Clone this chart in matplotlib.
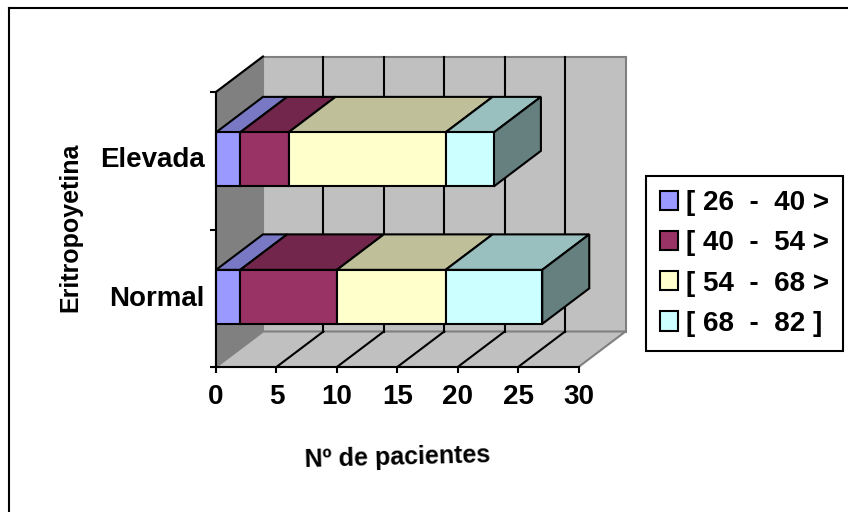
import matplotlib
matplotlib.use("Agg")
import matplotlib.pyplot as plt
from matplotlib.lines import Line2D
from matplotlib.patches import Patch, Polygon

plt.rcParams["font.family"] = ["Liberation Sans", "DejaVu Sans"]
plt.rcParams["font.weight"] = "bold"

# ── Data ─────────────────────────────────────────
categories = ["Normal", "Elevada"]
series_labels = ["[ 26  -  40 >", "[ 40  -  54 >", "[ 54  -  68 >", "[ 68  -  82 ]"]
normal = [2, 8, 9, 8]
elevada = [2, 4, 13, 4]
x_ticks = [0, 5, 10, 15, 20, 25, 30]

# ── Style ────────────────────────────────────────
W, H = 848, 512
front_colors = ["#9999FF", "#993366", "#FFFFCC", "#CCFFFF"]
top_colors = ["#7878C4", "#72264C", "#BFBF99", "#99BFBF"]
side_color = "#668080"
LW = 1.5

# front plane of the 3D box, in pixels
left, right, top, bottom = 216, 578.5, 92, 367
DX = 47 / (right - left) * 30    # depth in x units
DY = 35.5 / (bottom - top) * 2   # depth in category units
BAR_H = 54 / (bottom - top) * 2

fig = plt.figure(figsize=(W / 100, H / 100), dpi=100, facecolor="white")
ax = fig.add_axes([left / W, 1 - bottom / H, (right - left) / W, (bottom - top) / H])
ax.set_xlim(0, 30)
ax.set_ylim(0, 2)
ax.patch.set_visible(False)


def poly(pts, fc, ec="black", z=2, lw=LW):
    ax.add_patch(Polygon(pts, closed=True, facecolor=fc, edgecolor=ec, linewidth=lw,
                         joinstyle="miter", zorder=z, clip_on=False))


# ── Walls ────────────────────────────────────────
poly([(0, 0), (DX, DY), (DX, 2 + DY), (0, 2)], "#808080", ec="#808080", z=1)
poly([(DX, DY), (30 + DX, DY), (30 + DX, 2 + DY), (DX, 2 + DY)], "#C0C0C0", ec="#808080", z=1)
poly([(0, 0), (30, 0), (30 + DX, DY), (DX, DY)], "#C0C0C0", ec="#808080", z=1)

for v in x_ticks[1:-1]:
    ax.plot([v + DX, v + DX], [DY, 2 + DY], color="black", lw=LW, zorder=1.5, clip_on=False)
    ax.plot([v, v + DX], [0, DY], color="black", lw=LW, zorder=1.5, clip_on=False)
ax.plot([0, DX], [2, 2 + DY], color="black", lw=LW, zorder=1.5, clip_on=False)

# ── Bars ─────────────────────────────────────────
for row in [1, 0]:
    values = [normal, elevada][row]
    y0 = row + 0.5 - BAR_H / 2 + 0.01
    y1 = y0 + BAR_H
    z = 3 + (1 - row)
    start = 0
    for val, fc, tc in zip(values, front_colors, top_colors):
        poly([(start, y1), (start + val, y1), (start + val + DX, y1 + DY), (start + DX, y1 + DY)],
             tc, z=z)
        ax.barh(row + 0.51, val, left=start, height=BAR_H, color=fc, edgecolor="black",
                linewidth=LW, zorder=z + 0.5, clip_on=False)
        start += val
    poly([(start, y0), (start + DX, y0 + DY), (start + DX, y1 + DY), (start, y1)],
         side_color, z=z + 0.2)

# ── Axes ─────────────────────────────────────────
for name in ["top", "right"]:
    ax.spines[name].set_visible(False)
for name in ["left", "bottom"]:
    ax.spines[name].set_linewidth(LW)
    ax.spines[name].set_zorder(6)

ax.set_xticks(x_ticks)
ax.set_yticks([0, 1, 2])
ax.set_yticklabels([])
ax.set_yticks([0.52, 1.53], minor=True)
ax.set_yticklabels(categories, minor=True, fontsize=20, fontweight="bold")
ax.tick_params(axis="x", length=4, width=LW, labelsize=20, pad=8)
ax.tick_params(axis="y", which="major", length=4, width=LW)
ax.tick_params(axis="y", which="minor", length=0, pad=8)

fig.text(397 / W, 1 - 458 / H, "Nº de pacientes", fontsize=18, fontweight="bold",
         ha="center", va="center", rotation=1.5)
fig.text(70 / W, 1 - 227 / H, "Eritropoyetina", fontsize=18, fontweight="bold",
         ha="center", va="center", rotation=90)

# ── Legend ───────────────────────────────────────
handles = [Patch(facecolor=c, edgecolor="black", linewidth=LW) for c in front_colors]
fig.legend(handles, series_labels, loc="center", bbox_to_anchor=(744.5 / W, 1 - 263.5 / H),
           fontsize=20, frameon=True, fancybox=False, framealpha=1, edgecolor="black",
           handlelength=0.68, handleheight=0.68, handletextpad=0.28, labelspacing=0.51,
           borderpad=0.5, borderaxespad=0).get_frame().set_linewidth(LW)

# ── Outer frame (only top and left fall inside the picture) ──
fig.add_artist(Line2D([9 / W, 9 / W], [0, 1 - 8 / H], color="black", lw=1.5))
fig.add_artist(Line2D([9 / W, 1], [1 - 8 / H, 1 - 8 / H], color="black", lw=1.5))

fig.savefig("out.png", dpi=100, facecolor="white")
